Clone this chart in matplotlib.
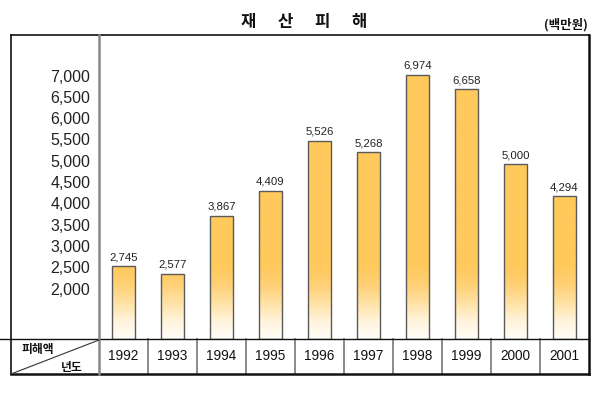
import numpy as np
import matplotlib

matplotlib.use("Agg")
import matplotlib.pyplot as plt
from matplotlib.colors import LinearSegmentedColormap

plt.rcParams["font.family"] = ["Liberation Sans", "Noto Sans CJK KR", "DejaVu Sans"]
KR = ["Noto Sans CJK KR", "DejaVu Sans"]

# --- data ---------------------------------------------------------------------
years = ["1992", "1993", "1994", "1995", "1996", "1997", "1998", "1999", "2000", "2001"]
damage = [2745, 2577, 3867, 4409, 5526, 5268, 6974, 6658, 5000, 4294]
ytick_vals = [2000, 2500, 3000, 3500, 4000, 4500, 5000, 5500, 6000, 6500, 7000]
title_chars = ["재", "산", "피", "해"]
unit_label = "(백만원)"
corner_top = "피해액"
corner_bottom = "년도"

W, H = 600, 393
BOX_L, BOX_R, BOX_T, BOX_B = 11, 589, 35, 374
COL_X = 99        # separator between label column and plot
TABLE_Y = 339     # top of the year row

fig = plt.figure(figsize=(W / 100, H / 100), dpi=100)
fig.patch.set_facecolor("white")


def fig_rect(x0, y0, x1, y1):
    return [x0 / W, 1 - y1 / H, (x1 - x0) / W, (y1 - y0) / H]


# --- bars ---------------------------------------------------------------------
ax = fig.add_axes(fig_rect(COL_X, BOX_T, BOX_R, TABLE_Y))
ybase, ytop = 1141, 7857
ax.set_xlim(-0.5, len(years) - 0.5)
ax.set_ylim(ybase, ytop)
ax.axis("off")

cmap = LinearSegmentedColormap.from_list(
    "fade", ["#fffdf8", "#fff3da", "#ffe1a3", "#ffd075", "#ffc95c"])
band = 1600
ys = np.linspace(ybase, ytop, 400)
t = np.clip((ys - ybase) / band, 0, 1)
grad = t[:, None]

x = np.arange(len(years))
bars = ax.bar(x, np.array(damage) - ybase, bottom=ybase, width=0.47,
              facecolor="none", edgecolor="#5a5a5a", linewidth=1.0, zorder=3)
for b in bars:
    im = ax.imshow(grad, cmap=cmap, vmin=0, vmax=1, origin="lower", aspect="auto",
                   extent=(-0.5, len(years) - 0.5, ybase, ytop), zorder=2)
    im.set_clip_path(b)

for xi, v in zip(x, damage):
    ax.annotate(f"{v:,}", (xi, v), xytext=(0, 3), textcoords="offset points",
                ha="center", va="bottom", fontsize=8.2, color="#222222")

# year row
xt = ax.get_xaxis_transform()
row_h = (BOX_B - TABLE_Y) / (TABLE_Y - BOX_T)
for xi, yr in zip(x, years):
    ax.text(xi, -row_h / 2, yr, transform=xt, ha="center", va="center",
            fontsize=9.8, color="#111111", clip_on=False)
for xi in x[1:]:
    ax.plot([xi - 0.5, xi - 0.5], [0, -row_h], transform=xt, color="#777777",
            lw=1.2, clip_on=False, zorder=4)

# --- y label column -------------------------------------------------------------
lab = fig.add_axes(fig_rect(BOX_L, BOX_T, COL_X, TABLE_Y))
lab.set_xlim(0, 1)
lab.set_ylim(850, 7986)
lab.axis("off")
for v in ytick_vals:
    lab.text(0.9, v, f"{v:,}", ha="right", va="center", fontsize=11.5, color="#222222")

# --- frame, table lines and header texts -------------------------------------------
ov = fig.add_axes([0, 0, 1, 1], zorder=5)
ov.set_xlim(0, W)
ov.set_ylim(H, 0)
ov.axis("off")
ov.patch.set_alpha(0)

ov.plot([BOX_L, BOX_R], [BOX_T, BOX_T], color="#111111", lw=1.2)
ov.plot([BOX_L, BOX_L], [BOX_T, BOX_B], color="#111111", lw=1.2)
ov.plot([BOX_R, BOX_R], [BOX_T, BOX_B], color="#111111", lw=1.8)
ov.plot([BOX_L, BOX_R], [BOX_B, BOX_B], color="#111111", lw=1.8)
ov.plot([0, BOX_R], [TABLE_Y, TABLE_Y], color="#111111", lw=1.0)
ov.plot([COL_X, COL_X], [BOX_T, BOX_B], color="#888888", lw=1.8)
ov.plot([BOX_L, COL_X], [BOX_B, TABLE_Y + 1], color="#333333", lw=0.8)

ov.text(22, 349, corner_top, ha="left", va="center", fontsize=8.5,
        family=KR, fontweight="bold", color="#111111")
ov.text(83, 367, corner_bottom, ha="right", va="center", fontsize=8.5,
        family=KR, fontweight="bold", color="#111111")

for i, ch in enumerate(title_chars):
    ov.text(248 + i * 37, 22, ch, ha="center", va="center", fontsize=12,
            family=KR, fontweight="bold", color="#111111")
ov.text(588, 25, unit_label, ha="right", va="center", fontsize=9,
        family=KR, fontweight="bold", color="#111111")

fig.savefig("out.png", dpi=100, facecolor="white")
